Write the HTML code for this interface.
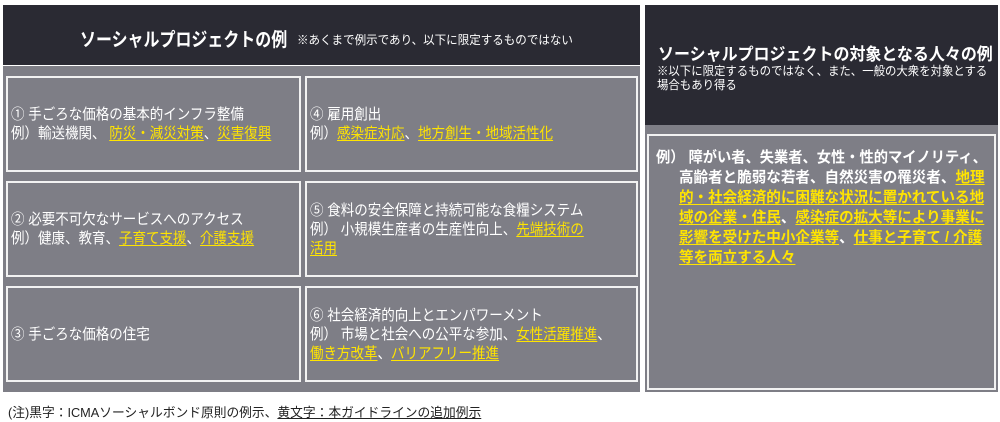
<!DOCTYPE html>
<html><head><meta charset="utf-8"><style>
*{margin:0;padding:0;box-sizing:border-box}
body{width:1000px;height:422px;background:#fff;position:relative;overflow:hidden;font-family:"Liberation Sans","Noto Sans CJK JP",sans-serif;color:#fff}
.a{position:absolute}
.dark{background:#2a2a33}
.gray{background:#7e7e86}
.box{position:absolute;border:2px solid #f2f2f2;background:#7e7e86;font-size:15px;line-height:19px;padding-left:3px;display:flex;flex-direction:column;justify-content:center}
.box div{white-space:nowrap;transform:scaleX(.9);transform-origin:left center}
.y{color:#ffe400;text-decoration:underline;text-underline-offset:2px}
.s{white-space:nowrap;transform-origin:left center}
</style></head><body>
<div class="a dark" style="left:3px;top:5px;width:637px;height:60px"></div>
<div class="a s" style="left:80px;top:25px;font-size:19px;font-weight:bold;transform:scaleX(.84)">ソーシャルプロジェクトの例</div>
<div class="a s" style="left:297px;top:31px;font-size:12px;transform:scaleX(.96)">※あくまで例示であり、以下に限定するものではない</div>
<div class="a gray" style="left:3px;top:66px;width:637px;height:326px"></div>
<div class="box" style="left:6px;top:76px;width:295px;height:96px"><div>① 手ごろな価格の基本的インフラ整備</div><div>例）輸送機関、 <span class="y">防災・減災対策</span>、<span class="y">災害復興</span></div></div>
<div class="box" style="left:305px;top:76px;width:333px;height:96px"><div>④ 雇用創出</div><div>例）<span class="y">感染症対応</span>、<span class="y">地方創生・地域活性化</span></div></div>
<div class="box" style="left:6px;top:181px;width:295px;height:96px"><div>② 必要不可欠なサービスへのアクセス</div><div>例）健康、教育、<span class="y">子育て支援</span>、<span class="y">介護支援</span></div></div>
<div class="box" style="left:305px;top:181px;width:333px;height:96px"><div>⑤ 食料の安全保障と持続可能な食糧システム</div><div>例） 小規模生産者の生産性向上、<span class="y">先端技術の</span></div><div><span class="y">活用</span></div></div>
<div class="box" style="left:6px;top:286px;width:295px;height:96px"><div>③ 手ごろな価格の住宅</div></div>
<div class="box" style="left:305px;top:286px;width:333px;height:96px"><div>⑥ 社会経済的向上とエンパワーメント</div><div>例） 市場と社会への公平な参加、<span class="y">女性活躍推進</span>、</div><div><span class="y">働き方改革</span>、<span class="y">バリアフリー推進</span></div></div>
<div class="a dark" style="left:645px;top:5px;width:353px;height:120px"></div>
<div class="a s" style="left:658px;top:40px;font-size:17px;font-weight:bold;transform:scaleX(.94)">ソーシャルプロジェクトの対象となる人々の例</div>
<div class="a s" style="left:657px;top:64px;font-size:12px;line-height:14px;transform:scaleX(.95)">※以下に限定するものではなく、また、一般の大衆を対象とする<br>場合もあり得る</div>
<div class="a gray" style="left:645px;top:125px;width:353px;height:267px"></div>
<div class="a" style="left:647px;top:134px;width:349px;height:256px;border:2px solid #f2f2f2"></div>
<div class="a" style="left:656px;top:148px;font-size:15px;line-height:20px;font-weight:bold">
<div class="s" style="transform:scaleX(.95)">例） 障がい者、失業者、女性・性的マイノリティ、</div>
<div class="s" style="margin-left:23px;transform:scaleX(.97)">高齢者と脆弱な若者、自然災害の罹災者、<span class="y">地理</span></div>
<div class="s" style="margin-left:23px;transform:scaleX(.97)"><span class="y">的・社会経済的に困難な状況に置かれている地</span></div>
<div class="s" style="margin-left:23px;transform:scaleX(.97)"><span class="y">域の企業・住民</span>、<span class="y">感染症の拡大等により事業に</span></div>
<div class="s" style="margin-left:23px;transform:scaleX(.97)"><span class="y">影響を受けた中小企業等</span>、<span class="y">仕事と子育て / 介護</span></div>
<div class="s" style="margin-left:23px;transform:scaleX(.97)"><span class="y">等を両立する人々</span></div>
</div>
<div class="a s" style="left:8px;top:402px;font-size:13px;color:#222;transform:scaleX(.98)">(注)黒字：ICMAソーシャルボンド原則の例示、<span style="text-decoration:underline">黄文字：本ガイドラインの追加例示</span></div>
</body></html>
